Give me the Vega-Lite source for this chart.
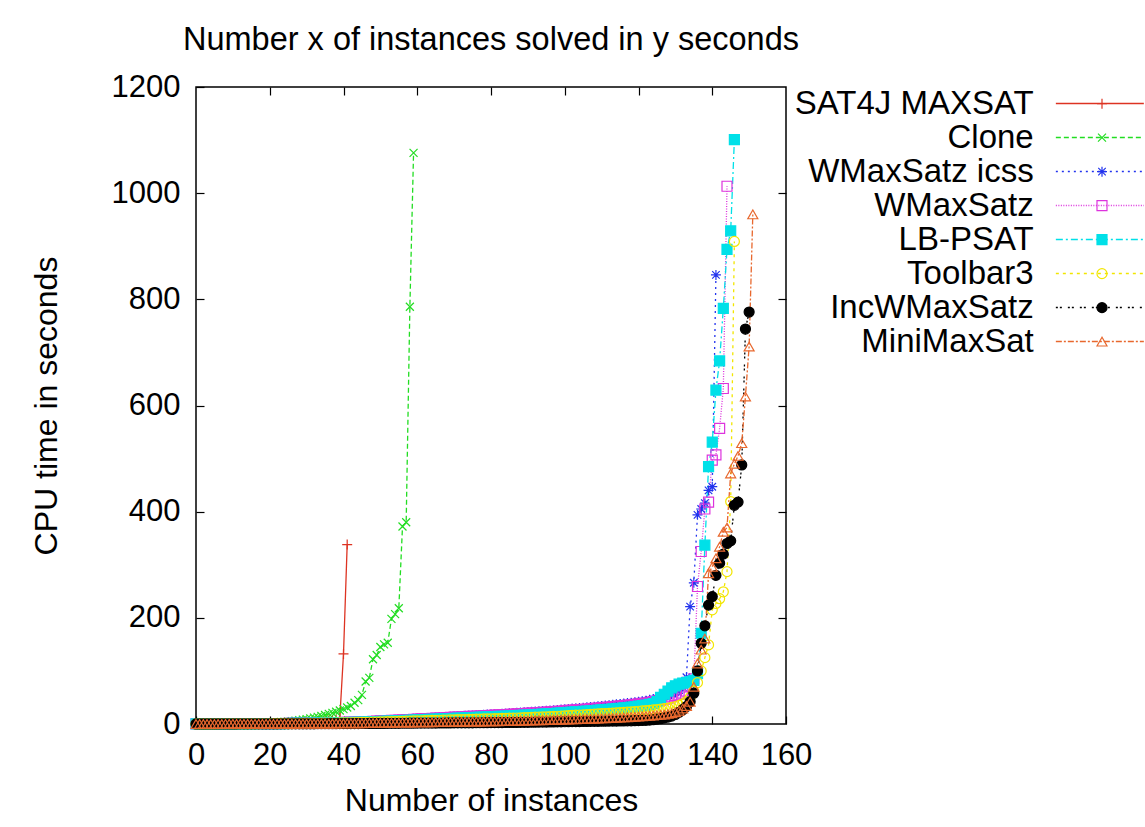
{
"$schema":"https://vega.github.io/schema/vega-lite/v6.json",
"width":590,"height":637,
"autosize":{"type":"none"},
"padding":{"left":196,"top":87,"right":359,"bottom":103},
"background":"white",
"title":{"text":"Number x of instances solved in y seconds","font":"Liberation Sans","fontSize":32.5,"fontWeight":"normal","color":"black","offset":15,"anchor":"middle","frame":"group"},
"config":{"view":{"stroke":"black","strokeWidth":1.5},"axis":{"grid":false,"domain":false,"tickColor":"black","tickWidth":1.2,"tickSize":-8,"labelColor":"black","labelFont":"Liberation Sans","labelFontSize":31,"labelOverlap":false,"labelFlush":false,"format":"d","titleFont":"Liberation Sans","titleFontSize":32,"titleFontWeight":"normal","titleColor":"black"}},
"data":{"values":[
{"s":"R","x":0,"y":0.1},{"s":"R","x":1,"y":0.1},{"s":"R","x":2,"y":0.2},{"s":"R","x":3,"y":0.2},{"s":"R","x":4,"y":0.2},{"s":"R","x":5,"y":0.3},{"s":"R","x":6,"y":0.3},{"s":"R","x":7,"y":0.4},{"s":"R","x":8,"y":0.4},{"s":"R","x":9,"y":0.5},{"s":"R","x":10,"y":0.5},{"s":"R","x":11,"y":0.6},{"s":"R","x":12,"y":0.6},{"s":"R","x":13,"y":0.7},{"s":"R","x":14,"y":0.8},{"s":"R","x":15,"y":0.9},{"s":"R","x":16,"y":1},{"s":"R","x":17,"y":1.1},{"s":"R","x":18,"y":1.2},{"s":"R","x":19,"y":1.3},
{"s":"R","x":20,"y":1.4},{"s":"R","x":21,"y":1.5},{"s":"R","x":22,"y":1.7},{"s":"R","x":23,"y":1.9},{"s":"R","x":24,"y":2.1},{"s":"R","x":25,"y":2.3},{"s":"R","x":26,"y":2.5},{"s":"R","x":27,"y":2.7},{"s":"R","x":28,"y":3},{"s":"R","x":29,"y":3.3},{"s":"R","x":30,"y":3.6},{"s":"R","x":31,"y":4},{"s":"R","x":32,"y":4.4},{"s":"R","x":33,"y":4.8},{"s":"R","x":34,"y":5.3},{"s":"R","x":35,"y":5.8},{"s":"R","x":36,"y":6.4},{"s":"R","x":37,"y":7},{"s":"R","x":38,"y":8},{"s":"R","x":39,"y":12},{"s":"R","x":40,"y":132},{"s":"R","x":41,"y":338},
{"s":"C","x":0,"y":0.1},{"s":"C","x":1,"y":0.1},{"s":"C","x":2,"y":0.2},{"s":"C","x":3,"y":0.2},{"s":"C","x":4,"y":0.3},{"s":"C","x":5,"y":0.3},{"s":"C","x":6,"y":0.4},{"s":"C","x":7,"y":0.5},{"s":"C","x":8,"y":0.6},{"s":"C","x":9,"y":0.7},{"s":"C","x":10,"y":0.8},{"s":"C","x":11,"y":0.9},{"s":"C","x":12,"y":1},{"s":"C","x":13,"y":1.1},{"s":"C","x":14,"y":1.2},{"s":"C","x":15,"y":1.4},{"s":"C","x":16,"y":1.6},{"s":"C","x":17,"y":1.8},{"s":"C","x":18,"y":2},{"s":"C","x":19,"y":2.2},
{"s":"C","x":20,"y":2.4},{"s":"C","x":21,"y":2.8},{"s":"C","x":22,"y":3.2},{"s":"C","x":23,"y":3.7},{"s":"C","x":24,"y":4.2},{"s":"C","x":25,"y":4.8},{"s":"C","x":26,"y":5.5},{"s":"C","x":27,"y":6.3},{"s":"C","x":28,"y":7.2},{"s":"C","x":29,"y":8.2},{"s":"C","x":30,"y":9.3},{"s":"C","x":31,"y":10.5},{"s":"C","x":32,"y":12},{"s":"C","x":33,"y":13.5},{"s":"C","x":34,"y":15},{"s":"C","x":35,"y":17},{"s":"C","x":36,"y":19},{"s":"C","x":37,"y":21},{"s":"C","x":38,"y":23},{"s":"C","x":39,"y":25.5},
{"s":"C","x":40,"y":28},{"s":"C","x":41,"y":31},{"s":"C","x":42,"y":34},{"s":"C","x":43,"y":40},{"s":"C","x":44,"y":45},{"s":"C","x":45,"y":55},{"s":"C","x":46,"y":80},{"s":"C","x":47,"y":87},{"s":"C","x":48,"y":122},{"s":"C","x":49,"y":130},{"s":"C","x":50,"y":145},{"s":"C","x":51,"y":150},{"s":"C","x":52,"y":153},{"s":"C","x":53,"y":198},{"s":"C","x":54,"y":207},{"s":"C","x":55,"y":218},{"s":"C","x":56,"y":372},{"s":"C","x":57,"y":380},{"s":"C","x":58,"y":786},{"s":"C","x":59,"y":1076},
{"s":"B","x":0,"y":0.1},{"s":"B","x":1,"y":0.1},{"s":"B","x":2,"y":0.1},{"s":"B","x":3,"y":0.1},{"s":"B","x":4,"y":0.2},{"s":"B","x":5,"y":0.2},{"s":"B","x":6,"y":0.2},{"s":"B","x":7,"y":0.2},{"s":"B","x":8,"y":0.3},{"s":"B","x":9,"y":0.3},{"s":"B","x":10,"y":0.3},{"s":"B","x":11,"y":0.4},{"s":"B","x":12,"y":0.4},{"s":"B","x":13,"y":0.4},{"s":"B","x":14,"y":0.5},{"s":"B","x":15,"y":0.5},{"s":"B","x":16,"y":0.6},{"s":"B","x":17,"y":0.6},{"s":"B","x":18,"y":0.7},{"s":"B","x":19,"y":0.7},
{"s":"B","x":20,"y":0.8},{"s":"B","x":21,"y":0.8},{"s":"B","x":22,"y":0.9},{"s":"B","x":23,"y":1},{"s":"B","x":24,"y":1},{"s":"B","x":25,"y":1.1},{"s":"B","x":26,"y":1.2},{"s":"B","x":27,"y":1.3},{"s":"B","x":28,"y":1.4},{"s":"B","x":29,"y":1.5},{"s":"B","x":30,"y":1.6},{"s":"B","x":31,"y":1.7},{"s":"B","x":32,"y":1.8},{"s":"B","x":33,"y":2},{"s":"B","x":34,"y":2.1},{"s":"B","x":35,"y":2.3},{"s":"B","x":36,"y":2.5},{"s":"B","x":37,"y":2.7},{"s":"B","x":38,"y":2.9},{"s":"B","x":39,"y":3.1},
{"s":"B","x":40,"y":3.3},{"s":"B","x":41,"y":3.5},{"s":"B","x":42,"y":3.8},{"s":"B","x":43,"y":4},{"s":"B","x":44,"y":4.3},{"s":"B","x":45,"y":4.6},{"s":"B","x":46,"y":4.9},{"s":"B","x":47,"y":5.2},{"s":"B","x":48,"y":5.5},{"s":"B","x":49,"y":5.9},{"s":"B","x":50,"y":6.3},{"s":"B","x":51,"y":6.7},{"s":"B","x":52,"y":7},{"s":"B","x":53,"y":7.4},{"s":"B","x":54,"y":7.8},{"s":"B","x":55,"y":8.2},{"s":"B","x":56,"y":8.6},{"s":"B","x":57,"y":9},{"s":"B","x":58,"y":9.4},{"s":"B","x":59,"y":9.8},
{"s":"B","x":60,"y":10.2},{"s":"B","x":61,"y":10.6},{"s":"B","x":62,"y":11},{"s":"B","x":63,"y":11.4},{"s":"B","x":64,"y":11.8},{"s":"B","x":65,"y":12.2},{"s":"B","x":66,"y":12.6},{"s":"B","x":67,"y":13},{"s":"B","x":68,"y":13.4},{"s":"B","x":69,"y":13.8},{"s":"B","x":70,"y":14.2},{"s":"B","x":71,"y":14.6},{"s":"B","x":72,"y":15},{"s":"B","x":73,"y":15.4},{"s":"B","x":74,"y":15.8},{"s":"B","x":75,"y":16.2},{"s":"B","x":76,"y":16.6},{"s":"B","x":77,"y":17},{"s":"B","x":78,"y":17.4},{"s":"B","x":79,"y":17.8},
{"s":"B","x":80,"y":18.2},{"s":"B","x":81,"y":18.6},{"s":"B","x":82,"y":19},{"s":"B","x":83,"y":19.4},{"s":"B","x":84,"y":19.8},{"s":"B","x":85,"y":20.2},{"s":"B","x":86,"y":20.6},{"s":"B","x":87,"y":21},{"s":"B","x":88,"y":21.5},{"s":"B","x":89,"y":22},{"s":"B","x":90,"y":22.5},{"s":"B","x":91,"y":23},{"s":"B","x":92,"y":23.5},{"s":"B","x":93,"y":24},{"s":"B","x":94,"y":24.5},{"s":"B","x":95,"y":25},{"s":"B","x":96,"y":25.5},{"s":"B","x":97,"y":26},{"s":"B","x":98,"y":26.6},{"s":"B","x":99,"y":27.2},
{"s":"B","x":100,"y":27.8},{"s":"B","x":101,"y":28.4},{"s":"B","x":102,"y":29},{"s":"B","x":103,"y":29.6},{"s":"B","x":104,"y":30.2},{"s":"B","x":105,"y":30.8},{"s":"B","x":106,"y":31.4},{"s":"B","x":107,"y":32},{"s":"B","x":108,"y":32.7},{"s":"B","x":109,"y":33.4},{"s":"B","x":110,"y":34.1},{"s":"B","x":111,"y":34.8},{"s":"B","x":112,"y":35.5},{"s":"B","x":113,"y":36.2},{"s":"B","x":114,"y":37},{"s":"B","x":115,"y":37.8},{"s":"B","x":116,"y":38.6},{"s":"B","x":117,"y":39.4},{"s":"B","x":118,"y":40.2},{"s":"B","x":119,"y":41},
{"s":"B","x":120,"y":42},{"s":"B","x":121,"y":43},{"s":"B","x":122,"y":44},{"s":"B","x":123,"y":45.5},{"s":"B","x":124,"y":47},{"s":"B","x":125,"y":48.5},{"s":"B","x":126,"y":50},{"s":"B","x":127,"y":52},{"s":"B","x":128,"y":54},{"s":"B","x":129,"y":57},{"s":"B","x":130,"y":60},{"s":"B","x":131,"y":64},{"s":"B","x":132,"y":70},{"s":"B","x":133,"y":88},{"s":"B","x":134,"y":221},{"s":"B","x":135,"y":266},{"s":"B","x":136,"y":394},{"s":"B","x":137,"y":405},{"s":"B","x":138,"y":416},{"s":"B","x":139,"y":440},{"s":"B","x":140,"y":447},{"s":"B","x":141,"y":846},
{"s":"M","x":0,"y":0.1},{"s":"M","x":1,"y":0.1},{"s":"M","x":2,"y":0.1},{"s":"M","x":3,"y":0.1},{"s":"M","x":4,"y":0.2},{"s":"M","x":5,"y":0.2},{"s":"M","x":6,"y":0.2},{"s":"M","x":7,"y":0.2},{"s":"M","x":8,"y":0.3},{"s":"M","x":9,"y":0.3},{"s":"M","x":10,"y":0.3},{"s":"M","x":11,"y":0.3},{"s":"M","x":12,"y":0.4},{"s":"M","x":13,"y":0.4},{"s":"M","x":14,"y":0.4},{"s":"M","x":15,"y":0.5},{"s":"M","x":16,"y":0.5},{"s":"M","x":17,"y":0.6},{"s":"M","x":18,"y":0.6},{"s":"M","x":19,"y":0.7},
{"s":"M","x":20,"y":0.7},{"s":"M","x":21,"y":0.8},{"s":"M","x":22,"y":0.8},{"s":"M","x":23,"y":0.9},{"s":"M","x":24,"y":0.9},{"s":"M","x":25,"y":1},{"s":"M","x":26,"y":1.1},{"s":"M","x":27,"y":1.2},{"s":"M","x":28,"y":1.3},{"s":"M","x":29,"y":1.3},{"s":"M","x":30,"y":1.4},{"s":"M","x":31,"y":1.5},{"s":"M","x":32,"y":1.6},{"s":"M","x":33,"y":1.8},{"s":"M","x":34,"y":1.9},{"s":"M","x":35,"y":2.1},{"s":"M","x":36,"y":2.2},{"s":"M","x":37,"y":2.4},{"s":"M","x":38,"y":2.6},{"s":"M","x":39,"y":2.8},
{"s":"M","x":40,"y":3},{"s":"M","x":41,"y":3.2},{"s":"M","x":42,"y":3.4},{"s":"M","x":43,"y":3.6},{"s":"M","x":44,"y":3.9},{"s":"M","x":45,"y":4.1},{"s":"M","x":46,"y":4.4},{"s":"M","x":47,"y":4.7},{"s":"M","x":48,"y":5},{"s":"M","x":49,"y":5.3},{"s":"M","x":50,"y":5.7},{"s":"M","x":51,"y":6},{"s":"M","x":52,"y":6.3},{"s":"M","x":53,"y":6.7},{"s":"M","x":54,"y":7},{"s":"M","x":55,"y":7.4},{"s":"M","x":56,"y":7.7},{"s":"M","x":57,"y":8.1},{"s":"M","x":58,"y":8.5},{"s":"M","x":59,"y":8.8},
{"s":"M","x":60,"y":9.2},{"s":"M","x":61,"y":9.5},{"s":"M","x":62,"y":9.9},{"s":"M","x":63,"y":10.3},{"s":"M","x":64,"y":10.6},{"s":"M","x":65,"y":11},{"s":"M","x":66,"y":11.3},{"s":"M","x":67,"y":11.7},{"s":"M","x":68,"y":12.1},{"s":"M","x":69,"y":12.4},{"s":"M","x":70,"y":12.8},{"s":"M","x":71,"y":13.1},{"s":"M","x":72,"y":13.5},{"s":"M","x":73,"y":13.9},{"s":"M","x":74,"y":14.2},{"s":"M","x":75,"y":14.6},{"s":"M","x":76,"y":14.9},{"s":"M","x":77,"y":15.3},{"s":"M","x":78,"y":15.7},{"s":"M","x":79,"y":16},
{"s":"M","x":80,"y":16.4},{"s":"M","x":81,"y":16.7},{"s":"M","x":82,"y":17.1},{"s":"M","x":83,"y":17.5},{"s":"M","x":84,"y":17.8},{"s":"M","x":85,"y":18.2},{"s":"M","x":86,"y":18.5},{"s":"M","x":87,"y":18.9},{"s":"M","x":88,"y":19.4},{"s":"M","x":89,"y":19.8},{"s":"M","x":90,"y":20.3},{"s":"M","x":91,"y":20.7},{"s":"M","x":92,"y":21.2},{"s":"M","x":93,"y":21.6},{"s":"M","x":94,"y":22.1},{"s":"M","x":95,"y":22.5},{"s":"M","x":96,"y":23},{"s":"M","x":97,"y":23.4},{"s":"M","x":98,"y":23.9},{"s":"M","x":99,"y":24.5},
{"s":"M","x":100,"y":25},{"s":"M","x":101,"y":25.6},{"s":"M","x":102,"y":26.1},{"s":"M","x":103,"y":26.6},{"s":"M","x":104,"y":27.2},{"s":"M","x":105,"y":27.7},{"s":"M","x":106,"y":28.3},{"s":"M","x":107,"y":28.8},{"s":"M","x":108,"y":29.4},{"s":"M","x":109,"y":30.1},{"s":"M","x":110,"y":30.7},{"s":"M","x":111,"y":31.3},{"s":"M","x":112,"y":32},{"s":"M","x":113,"y":32.6},{"s":"M","x":114,"y":33.3},{"s":"M","x":115,"y":34},{"s":"M","x":116,"y":34.7},{"s":"M","x":117,"y":35.5},{"s":"M","x":118,"y":36.2},{"s":"M","x":119,"y":36.9},
{"s":"M","x":120,"y":37.8},{"s":"M","x":121,"y":38.7},{"s":"M","x":122,"y":39.6},{"s":"M","x":123,"y":41},{"s":"M","x":124,"y":42.3},{"s":"M","x":125,"y":43.7},{"s":"M","x":126,"y":45},{"s":"M","x":127,"y":46.8},{"s":"M","x":128,"y":48.6},{"s":"M","x":129,"y":51.3},{"s":"M","x":130,"y":54},{"s":"M","x":131,"y":56},{"s":"M","x":132,"y":58},{"s":"M","x":133,"y":62},{"s":"M","x":134,"y":70},{"s":"M","x":135,"y":85},{"s":"M","x":136,"y":259},{"s":"M","x":137,"y":325},{"s":"M","x":138,"y":405},{"s":"M","x":139,"y":418},{"s":"M","x":140,"y":497},{"s":"M","x":141,"y":507},{"s":"M","x":142,"y":557},{"s":"M","x":143,"y":632},{"s":"M","x":144,"y":1013},
{"s":"L","x":0,"y":0.1},{"s":"L","x":1,"y":0.1},{"s":"L","x":2,"y":0.1},{"s":"L","x":3,"y":0.1},{"s":"L","x":4,"y":0.1},{"s":"L","x":5,"y":0.2},{"s":"L","x":6,"y":0.2},{"s":"L","x":7,"y":0.2},{"s":"L","x":8,"y":0.2},{"s":"L","x":9,"y":0.3},{"s":"L","x":10,"y":0.3},{"s":"L","x":11,"y":0.3},{"s":"L","x":12,"y":0.3},{"s":"L","x":13,"y":0.4},{"s":"L","x":14,"y":0.4},{"s":"L","x":15,"y":0.4},{"s":"L","x":16,"y":0.5},{"s":"L","x":17,"y":0.5},{"s":"L","x":18,"y":0.5},{"s":"L","x":19,"y":0.6},
{"s":"L","x":20,"y":0.6},{"s":"L","x":21,"y":0.7},{"s":"L","x":22,"y":0.7},{"s":"L","x":23,"y":0.8},{"s":"L","x":24,"y":0.8},{"s":"L","x":25,"y":0.9},{"s":"L","x":26,"y":1},{"s":"L","x":27,"y":1},{"s":"L","x":28,"y":1.1},{"s":"L","x":29,"y":1.2},{"s":"L","x":30,"y":1.3},{"s":"L","x":31,"y":1.4},{"s":"L","x":32,"y":1.5},{"s":"L","x":33,"y":1.6},{"s":"L","x":34,"y":1.7},{"s":"L","x":35,"y":1.8},{"s":"L","x":36,"y":1.9},{"s":"L","x":37,"y":2.1},{"s":"L","x":38,"y":2.2},{"s":"L","x":39,"y":2.4},
{"s":"L","x":40,"y":2.5},{"s":"L","x":41,"y":2.7},{"s":"L","x":42,"y":2.9},{"s":"L","x":43,"y":3.1},{"s":"L","x":44,"y":3.3},{"s":"L","x":45,"y":3.5},{"s":"L","x":46,"y":3.7},{"s":"L","x":47,"y":4},{"s":"L","x":48,"y":4.2},{"s":"L","x":49,"y":4.5},{"s":"L","x":50,"y":4.8},{"s":"L","x":51,"y":5},{"s":"L","x":52,"y":5.3},{"s":"L","x":53,"y":5.6},{"s":"L","x":54,"y":5.9},{"s":"L","x":55,"y":6.2},{"s":"L","x":56,"y":6.5},{"s":"L","x":57,"y":6.8},{"s":"L","x":58,"y":7.1},{"s":"L","x":59,"y":7.4},
{"s":"L","x":60,"y":7.7},{"s":"L","x":61,"y":8},{"s":"L","x":62,"y":8.3},{"s":"L","x":63,"y":8.6},{"s":"L","x":64,"y":8.9},{"s":"L","x":65,"y":9.2},{"s":"L","x":66,"y":9.5},{"s":"L","x":67,"y":9.8},{"s":"L","x":68,"y":10.1},{"s":"L","x":69,"y":10.4},{"s":"L","x":70,"y":10.7},{"s":"L","x":71,"y":11},{"s":"L","x":72,"y":11.3},{"s":"L","x":73,"y":11.6},{"s":"L","x":74,"y":11.9},{"s":"L","x":75,"y":12.2},{"s":"L","x":76,"y":12.5},{"s":"L","x":77,"y":12.8},{"s":"L","x":78,"y":13.1},{"s":"L","x":79,"y":13.4},
{"s":"L","x":80,"y":13.7},{"s":"L","x":81,"y":14},{"s":"L","x":82,"y":14.3},{"s":"L","x":83,"y":14.6},{"s":"L","x":84,"y":14.9},{"s":"L","x":85,"y":15.2},{"s":"L","x":86,"y":15.5},{"s":"L","x":87,"y":15.8},{"s":"L","x":88,"y":16.2},{"s":"L","x":89,"y":16.6},{"s":"L","x":90,"y":17},{"s":"L","x":91,"y":17.4},{"s":"L","x":92,"y":17.8},{"s":"L","x":93,"y":18.2},{"s":"L","x":94,"y":18.6},{"s":"L","x":95,"y":19},{"s":"L","x":96,"y":19.4},{"s":"L","x":97,"y":19.8},{"s":"L","x":98,"y":20.3},{"s":"L","x":99,"y":20.8},
{"s":"L","x":100,"y":21.3},{"s":"L","x":101,"y":21.8},{"s":"L","x":102,"y":22.3},{"s":"L","x":103,"y":22.8},{"s":"L","x":104,"y":23.3},{"s":"L","x":105,"y":23.8},{"s":"L","x":106,"y":24.3},{"s":"L","x":107,"y":24.8},{"s":"L","x":108,"y":25.4},{"s":"L","x":109,"y":26},{"s":"L","x":110,"y":26.6},{"s":"L","x":111,"y":27.2},{"s":"L","x":112,"y":27.8},{"s":"L","x":113,"y":28.4},{"s":"L","x":114,"y":29},{"s":"L","x":115,"y":29.7},{"s":"L","x":116,"y":30.4},{"s":"L","x":117,"y":31.1},{"s":"L","x":118,"y":31.8},{"s":"L","x":119,"y":32.5},
{"s":"L","x":120,"y":33.5},{"s":"L","x":121,"y":34.5},{"s":"L","x":122,"y":35.5},{"s":"L","x":123,"y":37},{"s":"L","x":124,"y":38.5},{"s":"L","x":125,"y":42},{"s":"L","x":126,"y":50},{"s":"L","x":127,"y":56},{"s":"L","x":128,"y":62},{"s":"L","x":129,"y":68},{"s":"L","x":130,"y":72},{"s":"L","x":131,"y":75},{"s":"L","x":132,"y":77},{"s":"L","x":133,"y":78},{"s":"L","x":134,"y":80},{"s":"L","x":135,"y":82},{"s":"L","x":136,"y":95},{"s":"L","x":137,"y":171},{"s":"L","x":138,"y":337},{"s":"L","x":139,"y":485},{"s":"L","x":140,"y":531},{"s":"L","x":141,"y":629},{"s":"L","x":142,"y":684},{"s":"L","x":143,"y":783},{"s":"L","x":144,"y":894},{"s":"L","x":145,"y":929},{"s":"L","x":146,"y":1101},
{"s":"T","x":0,"y":0.1},{"s":"T","x":1,"y":0.1},{"s":"T","x":2,"y":0.1},{"s":"T","x":3,"y":0.1},{"s":"T","x":4,"y":0.1},{"s":"T","x":5,"y":0.1},{"s":"T","x":6,"y":0.2},{"s":"T","x":7,"y":0.2},{"s":"T","x":8,"y":0.2},{"s":"T","x":9,"y":0.2},{"s":"T","x":10,"y":0.2},{"s":"T","x":11,"y":0.3},{"s":"T","x":12,"y":0.3},{"s":"T","x":13,"y":0.3},{"s":"T","x":14,"y":0.3},{"s":"T","x":15,"y":0.4},{"s":"T","x":16,"y":0.4},{"s":"T","x":17,"y":0.4},{"s":"T","x":18,"y":0.5},{"s":"T","x":19,"y":0.5},
{"s":"T","x":20,"y":0.5},{"s":"T","x":21,"y":0.6},{"s":"T","x":22,"y":0.6},{"s":"T","x":23,"y":0.7},{"s":"T","x":24,"y":0.7},{"s":"T","x":25,"y":0.8},{"s":"T","x":26,"y":0.8},{"s":"T","x":27,"y":0.9},{"s":"T","x":28,"y":0.9},{"s":"T","x":29,"y":1},{"s":"T","x":30,"y":1.1},{"s":"T","x":31,"y":1.2},{"s":"T","x":32,"y":1.3},{"s":"T","x":33,"y":1.4},{"s":"T","x":34,"y":1.5},{"s":"T","x":35,"y":1.6},{"s":"T","x":36,"y":1.7},{"s":"T","x":37,"y":1.8},{"s":"T","x":38,"y":1.9},{"s":"T","x":39,"y":2},
{"s":"T","x":40,"y":2.1},{"s":"T","x":41,"y":2.3},{"s":"T","x":42,"y":2.4},{"s":"T","x":43,"y":2.6},{"s":"T","x":44,"y":2.7},{"s":"T","x":45,"y":2.9},{"s":"T","x":46,"y":3.1},{"s":"T","x":47,"y":3.3},{"s":"T","x":48,"y":3.5},{"s":"T","x":49,"y":3.7},{"s":"T","x":50,"y":3.9},{"s":"T","x":51,"y":4.1},{"s":"T","x":52,"y":4.3},{"s":"T","x":53,"y":4.5},{"s":"T","x":54,"y":4.7},{"s":"T","x":55,"y":4.9},{"s":"T","x":56,"y":5.1},{"s":"T","x":57,"y":5.3},{"s":"T","x":58,"y":5.5},{"s":"T","x":59,"y":5.7},
{"s":"T","x":60,"y":5.9},{"s":"T","x":61,"y":6.1},{"s":"T","x":62,"y":6.3},{"s":"T","x":63,"y":6.5},{"s":"T","x":64,"y":6.7},{"s":"T","x":65,"y":6.9},{"s":"T","x":66,"y":7.1},{"s":"T","x":67,"y":7.3},{"s":"T","x":68,"y":7.5},{"s":"T","x":69,"y":7.7},{"s":"T","x":70,"y":7.9},{"s":"T","x":71,"y":8.1},{"s":"T","x":72,"y":8.3},{"s":"T","x":73,"y":8.5},{"s":"T","x":74,"y":8.7},{"s":"T","x":75,"y":8.9},{"s":"T","x":76,"y":9.1},{"s":"T","x":77,"y":9.3},{"s":"T","x":78,"y":9.5},{"s":"T","x":79,"y":9.7},
{"s":"T","x":80,"y":9.9},{"s":"T","x":81,"y":10.1},{"s":"T","x":82,"y":10.3},{"s":"T","x":83,"y":10.5},{"s":"T","x":84,"y":10.7},{"s":"T","x":85,"y":10.9},{"s":"T","x":86,"y":11.1},{"s":"T","x":87,"y":11.3},{"s":"T","x":88,"y":11.6},{"s":"T","x":89,"y":11.9},{"s":"T","x":90,"y":12.2},{"s":"T","x":91,"y":12.5},{"s":"T","x":92,"y":12.8},{"s":"T","x":93,"y":13.1},{"s":"T","x":94,"y":13.4},{"s":"T","x":95,"y":13.7},{"s":"T","x":96,"y":14},{"s":"T","x":97,"y":14.3},{"s":"T","x":98,"y":14.6},{"s":"T","x":99,"y":15},
{"s":"T","x":100,"y":15.4},{"s":"T","x":101,"y":15.8},{"s":"T","x":102,"y":16.2},{"s":"T","x":103,"y":16.6},{"s":"T","x":104,"y":17},{"s":"T","x":105,"y":17.4},{"s":"T","x":106,"y":17.8},{"s":"T","x":107,"y":18.2},{"s":"T","x":108,"y":18.6},{"s":"T","x":109,"y":19},{"s":"T","x":110,"y":19.4},{"s":"T","x":111,"y":19.8},{"s":"T","x":112,"y":20.2},{"s":"T","x":113,"y":20.6},{"s":"T","x":114,"y":21},{"s":"T","x":115,"y":21.5},{"s":"T","x":116,"y":22},{"s":"T","x":117,"y":22.5},{"s":"T","x":118,"y":23},{"s":"T","x":119,"y":23.5},
{"s":"T","x":120,"y":24},{"s":"T","x":121,"y":24.6},{"s":"T","x":122,"y":25.2},{"s":"T","x":123,"y":25.8},{"s":"T","x":124,"y":26.5},{"s":"T","x":125,"y":27.2},{"s":"T","x":126,"y":28},{"s":"T","x":127,"y":29},{"s":"T","x":128,"y":30},{"s":"T","x":129,"y":31.5},{"s":"T","x":130,"y":33},{"s":"T","x":131,"y":35},{"s":"T","x":132,"y":38},{"s":"T","x":133,"y":42},{"s":"T","x":134,"y":50},{"s":"T","x":135,"y":62},{"s":"T","x":136,"y":78},{"s":"T","x":137,"y":100},{"s":"T","x":138,"y":125},{"s":"T","x":139,"y":149},{"s":"T","x":140,"y":215},{"s":"T","x":141,"y":227},{"s":"T","x":142,"y":236},{"s":"T","x":143,"y":249},{"s":"T","x":144,"y":287},{"s":"T","x":145,"y":419},{"s":"T","x":146,"y":909},
{"s":"I","x":0,"y":0.1},{"s":"I","x":1,"y":0.1},{"s":"I","x":2,"y":0.1},{"s":"I","x":3,"y":0.1},{"s":"I","x":4,"y":0.1},{"s":"I","x":5,"y":0.1},{"s":"I","x":6,"y":0.1},{"s":"I","x":7,"y":0.1},{"s":"I","x":8,"y":0.1},{"s":"I","x":9,"y":0.1},{"s":"I","x":10,"y":0.1},{"s":"I","x":11,"y":0.1},{"s":"I","x":12,"y":0.2},{"s":"I","x":13,"y":0.2},{"s":"I","x":14,"y":0.2},{"s":"I","x":15,"y":0.2},{"s":"I","x":16,"y":0.2},{"s":"I","x":17,"y":0.2},{"s":"I","x":18,"y":0.2},{"s":"I","x":19,"y":0.2},
{"s":"I","x":20,"y":0.2},{"s":"I","x":21,"y":0.2},{"s":"I","x":22,"y":0.2},{"s":"I","x":23,"y":0.2},{"s":"I","x":24,"y":0.3},{"s":"I","x":25,"y":0.3},{"s":"I","x":26,"y":0.3},{"s":"I","x":27,"y":0.3},{"s":"I","x":28,"y":0.3},{"s":"I","x":29,"y":0.4},{"s":"I","x":30,"y":0.4},{"s":"I","x":31,"y":0.4},{"s":"I","x":32,"y":0.4},{"s":"I","x":33,"y":0.5},{"s":"I","x":34,"y":0.5},{"s":"I","x":35,"y":0.5},{"s":"I","x":36,"y":0.6},{"s":"I","x":37,"y":0.6},{"s":"I","x":38,"y":0.6},{"s":"I","x":39,"y":0.7},
{"s":"I","x":40,"y":0.7},{"s":"I","x":41,"y":0.7},{"s":"I","x":42,"y":0.8},{"s":"I","x":43,"y":0.8},{"s":"I","x":44,"y":0.8},{"s":"I","x":45,"y":0.9},{"s":"I","x":46,"y":0.9},{"s":"I","x":47,"y":1},{"s":"I","x":48,"y":1},{"s":"I","x":49,"y":1},{"s":"I","x":50,"y":1.1},{"s":"I","x":51,"y":1.1},{"s":"I","x":52,"y":1.2},{"s":"I","x":53,"y":1.2},{"s":"I","x":54,"y":1.3},{"s":"I","x":55,"y":1.3},{"s":"I","x":56,"y":1.4},{"s":"I","x":57,"y":1.4},{"s":"I","x":58,"y":1.5},{"s":"I","x":59,"y":1.5},
{"s":"I","x":60,"y":1.6},{"s":"I","x":61,"y":1.6},{"s":"I","x":62,"y":1.7},{"s":"I","x":63,"y":1.7},{"s":"I","x":64,"y":1.8},{"s":"I","x":65,"y":1.8},{"s":"I","x":66,"y":1.9},{"s":"I","x":67,"y":1.9},{"s":"I","x":68,"y":2},{"s":"I","x":69,"y":2},{"s":"I","x":70,"y":2.1},{"s":"I","x":71,"y":2.1},{"s":"I","x":72,"y":2.2},{"s":"I","x":73,"y":2.2},{"s":"I","x":74,"y":2.3},{"s":"I","x":75,"y":2.3},{"s":"I","x":76,"y":2.4},{"s":"I","x":77,"y":2.4},{"s":"I","x":78,"y":2.5},{"s":"I","x":79,"y":2.5},
{"s":"I","x":80,"y":2.6},{"s":"I","x":81,"y":2.6},{"s":"I","x":82,"y":2.7},{"s":"I","x":83,"y":2.7},{"s":"I","x":84,"y":2.8},{"s":"I","x":85,"y":2.8},{"s":"I","x":86,"y":2.9},{"s":"I","x":87,"y":2.9},{"s":"I","x":88,"y":3},{"s":"I","x":89,"y":3.1},{"s":"I","x":90,"y":3.2},{"s":"I","x":91,"y":3.3},{"s":"I","x":92,"y":3.4},{"s":"I","x":93,"y":3.5},{"s":"I","x":94,"y":3.6},{"s":"I","x":95,"y":3.7},{"s":"I","x":96,"y":3.8},{"s":"I","x":97,"y":3.9},{"s":"I","x":98,"y":4},{"s":"I","x":99,"y":4.1},
{"s":"I","x":100,"y":4.2},{"s":"I","x":101,"y":4.3},{"s":"I","x":102,"y":4.4},{"s":"I","x":103,"y":4.5},{"s":"I","x":104,"y":4.6},{"s":"I","x":105,"y":4.7},{"s":"I","x":106,"y":4.8},{"s":"I","x":107,"y":4.9},{"s":"I","x":108,"y":5},{"s":"I","x":109,"y":5.1},{"s":"I","x":110,"y":5.2},{"s":"I","x":111,"y":5.3},{"s":"I","x":112,"y":5.4},{"s":"I","x":113,"y":5.5},{"s":"I","x":114,"y":5.6},{"s":"I","x":115,"y":5.7},{"s":"I","x":116,"y":5.8},{"s":"I","x":117,"y":5.9},{"s":"I","x":118,"y":6},{"s":"I","x":119,"y":6.2},
{"s":"I","x":120,"y":6.4},{"s":"I","x":121,"y":6.7},{"s":"I","x":122,"y":7},{"s":"I","x":123,"y":7.4},{"s":"I","x":124,"y":8},{"s":"I","x":125,"y":9},{"s":"I","x":126,"y":10},{"s":"I","x":127,"y":11.5},{"s":"I","x":128,"y":13},{"s":"I","x":129,"y":15},{"s":"I","x":130,"y":18},{"s":"I","x":131,"y":22},{"s":"I","x":132,"y":27},{"s":"I","x":133,"y":33},{"s":"I","x":134,"y":42},{"s":"I","x":135,"y":58},{"s":"I","x":136,"y":100},{"s":"I","x":137,"y":152},{"s":"I","x":138,"y":185},{"s":"I","x":139,"y":224},{"s":"I","x":140,"y":240},{"s":"I","x":141,"y":280},{"s":"I","x":142,"y":303},{"s":"I","x":143,"y":320},{"s":"I","x":144,"y":340},{"s":"I","x":145,"y":345},{"s":"I","x":146,"y":412},{"s":"I","x":147,"y":418},{"s":"I","x":148,"y":488},{"s":"I","x":149,"y":744},{"s":"I","x":150,"y":776},
{"s":"O","x":0,"y":0.1},{"s":"O","x":1,"y":0.1},{"s":"O","x":2,"y":0.1},{"s":"O","x":3,"y":0.1},{"s":"O","x":4,"y":0.1},{"s":"O","x":5,"y":0.1},{"s":"O","x":6,"y":0.1},{"s":"O","x":7,"y":0.1},{"s":"O","x":8,"y":0.2},{"s":"O","x":9,"y":0.2},{"s":"O","x":10,"y":0.2},{"s":"O","x":11,"y":0.2},{"s":"O","x":12,"y":0.2},{"s":"O","x":13,"y":0.2},{"s":"O","x":14,"y":0.3},{"s":"O","x":15,"y":0.3},{"s":"O","x":16,"y":0.3},{"s":"O","x":17,"y":0.3},{"s":"O","x":18,"y":0.3},{"s":"O","x":19,"y":0.3},
{"s":"O","x":20,"y":0.3},{"s":"O","x":21,"y":0.3},{"s":"O","x":22,"y":0.4},{"s":"O","x":23,"y":0.4},{"s":"O","x":24,"y":0.4},{"s":"O","x":25,"y":0.5},{"s":"O","x":26,"y":0.5},{"s":"O","x":27,"y":0.5},{"s":"O","x":28,"y":0.6},{"s":"O","x":29,"y":0.6},{"s":"O","x":30,"y":0.6},{"s":"O","x":31,"y":0.7},{"s":"O","x":32,"y":0.7},{"s":"O","x":33,"y":0.8},{"s":"O","x":34,"y":0.8},{"s":"O","x":35,"y":0.9},{"s":"O","x":36,"y":0.9},{"s":"O","x":37,"y":1},{"s":"O","x":38,"y":1},{"s":"O","x":39,"y":1.1},
{"s":"O","x":40,"y":1.1},{"s":"O","x":41,"y":1.2},{"s":"O","x":42,"y":1.3},{"s":"O","x":43,"y":1.3},{"s":"O","x":44,"y":1.4},{"s":"O","x":45,"y":1.5},{"s":"O","x":46,"y":1.6},{"s":"O","x":47,"y":1.7},{"s":"O","x":48,"y":1.8},{"s":"O","x":49,"y":1.9},{"s":"O","x":50,"y":2},{"s":"O","x":51,"y":2.1},{"s":"O","x":52,"y":2.2},{"s":"O","x":53,"y":2.3},{"s":"O","x":54,"y":2.4},{"s":"O","x":55,"y":2.5},{"s":"O","x":56,"y":2.6},{"s":"O","x":57,"y":2.7},{"s":"O","x":58,"y":2.8},{"s":"O","x":59,"y":2.9},
{"s":"O","x":60,"y":3},{"s":"O","x":61,"y":3.1},{"s":"O","x":62,"y":3.2},{"s":"O","x":63,"y":3.3},{"s":"O","x":64,"y":3.4},{"s":"O","x":65,"y":3.5},{"s":"O","x":66,"y":3.6},{"s":"O","x":67,"y":3.7},{"s":"O","x":68,"y":3.8},{"s":"O","x":69,"y":3.9},{"s":"O","x":70,"y":4},{"s":"O","x":71,"y":4.1},{"s":"O","x":72,"y":4.2},{"s":"O","x":73,"y":4.3},{"s":"O","x":74,"y":4.4},{"s":"O","x":75,"y":4.5},{"s":"O","x":76,"y":4.6},{"s":"O","x":77,"y":4.7},{"s":"O","x":78,"y":4.8},{"s":"O","x":79,"y":4.9},
{"s":"O","x":80,"y":5},{"s":"O","x":81,"y":5.1},{"s":"O","x":82,"y":5.2},{"s":"O","x":83,"y":5.3},{"s":"O","x":84,"y":5.4},{"s":"O","x":85,"y":5.5},{"s":"O","x":86,"y":5.6},{"s":"O","x":87,"y":5.7},{"s":"O","x":88,"y":5.9},{"s":"O","x":89,"y":6.1},{"s":"O","x":90,"y":6.3},{"s":"O","x":91,"y":6.5},{"s":"O","x":92,"y":6.7},{"s":"O","x":93,"y":6.9},{"s":"O","x":94,"y":7.1},{"s":"O","x":95,"y":7.3},{"s":"O","x":96,"y":7.5},{"s":"O","x":97,"y":7.7},{"s":"O","x":98,"y":7.9},{"s":"O","x":99,"y":8.1},
{"s":"O","x":100,"y":8.3},{"s":"O","x":101,"y":8.5},{"s":"O","x":102,"y":8.7},{"s":"O","x":103,"y":8.9},{"s":"O","x":104,"y":9.1},{"s":"O","x":105,"y":9.3},{"s":"O","x":106,"y":9.5},{"s":"O","x":107,"y":9.7},{"s":"O","x":108,"y":9.9},{"s":"O","x":109,"y":10.2},{"s":"O","x":110,"y":10.5},{"s":"O","x":111,"y":10.8},{"s":"O","x":112,"y":11.1},{"s":"O","x":113,"y":11.4},{"s":"O","x":114,"y":11.7},{"s":"O","x":115,"y":12},{"s":"O","x":116,"y":12.4},{"s":"O","x":117,"y":12.8},{"s":"O","x":118,"y":13.2},{"s":"O","x":119,"y":13.6},
{"s":"O","x":120,"y":14},{"s":"O","x":121,"y":14.5},{"s":"O","x":122,"y":15},{"s":"O","x":123,"y":15.5},{"s":"O","x":124,"y":16},{"s":"O","x":125,"y":16.6},{"s":"O","x":126,"y":17.2},{"s":"O","x":127,"y":18},{"s":"O","x":128,"y":19},{"s":"O","x":129,"y":20},{"s":"O","x":130,"y":22},{"s":"O","x":131,"y":25},{"s":"O","x":132,"y":29},{"s":"O","x":133,"y":34},{"s":"O","x":134,"y":42},{"s":"O","x":135,"y":70},{"s":"O","x":136,"y":114},{"s":"O","x":137,"y":140},{"s":"O","x":138,"y":161},{"s":"O","x":139,"y":284},{"s":"O","x":140,"y":296},{"s":"O","x":141,"y":312},{"s":"O","x":142,"y":334},{"s":"O","x":143,"y":362},{"s":"O","x":144,"y":370},{"s":"O","x":145,"y":472},{"s":"O","x":146,"y":490},{"s":"O","x":147,"y":505},{"s":"O","x":148,"y":529},{"s":"O","x":149,"y":617},{"s":"O","x":150,"y":711},{"s":"O","x":151,"y":960}
]},
"layer":[
{"mark":{"type":"line","strokeWidth":1.3},
 "encoding":{
  "x":{"field":"x","type":"quantitative","scale":{"domain":[0,160],"nice":false,"zero":false},"axis":{"orient":"bottom","values":[0,20,40,60,80,100,120,140,160],"labelPadding":24,"title":"Number of instances","titlePadding":15}},
  "y":{"field":"y","type":"quantitative","scale":{"domain":[0,1200],"nice":false,"zero":false},"axis":{"orient":"left","values":[0,200,400,600,800,1000,1200],"labelPadding":24,"title":"CPU time in seconds","titlePadding":48}},
  "stroke":{"field":"s","type":"nominal","scale":{"domain":["R","C","B","M","L","T","I","O"],"range":["#dd3322","#22dd22","#2233ee","#dd33dd","#00e0e8","#f2e600","#000000","#e8682e"]},"legend":null},
  "strokeDash":{"field":"s","type":"nominal","scale":{"domain":["R","C","B","M","L","T","I","O"],"range":[[1,0],[5,3],[2,4],[1,1.5],[7,3,2,3],[3,4],[2,2,2,6],[6,2,2,2]]},
   "legend":{"orient":"none","legendX":887.35,"legendY":0,"title":null,"padding":0,"symbolType":"M-8.8,0H8.8","symbolSize":100,"symbolStrokeWidth":1.3,"rowPadding":-1.8,"labelFont":"Liberation Sans","labelFontSize":33,"labelColor":"black","labelAlign":"right","labelOffset":-82.65,"labelLimit":400,
    "labelExpr":"datum.value=='R'?'SAT4J MAXSAT':datum.value=='C'?'Clone':datum.value=='B'?'WMaxSatz icss':datum.value=='M'?'WMaxSatz':datum.value=='L'?'LB-PSAT':datum.value=='T'?'Toolbar3':datum.value=='I'?'IncWMaxSatz':'MiniMaxSat'",
    "encoding":{"symbols":{"stroke":{"value":{"expr":"scale('stroke', datum.value)"}},"fill":{"value":"transparent"},"opacity":{"value":1}}}}}
 }},
{"mark":{"type":"point","size":100,"strokeWidth":1.2,"opacity":1},
 "encoding":{
  "x":{"field":"x","type":"quantitative","scale":{"domain":[0,160],"nice":false,"zero":false},"axis":{"orient":"top","values":[20,40,60,80,100,120,140],"labels":false,"title":null}},
  "y":{"field":"y","type":"quantitative","scale":{"domain":[0,1200],"nice":false,"zero":false},"axis":{"orient":"right","values":[200,400,600,800,1000],"labels":false,"title":null}},
  "stroke":{"field":"s","type":"nominal","legend":null},
  "fill":{"field":"s","type":"nominal","scale":{"domain":["R","C","B","M","L","T","I","O"],"range":["transparent","transparent","transparent","transparent","#00e0e8","transparent","#000000","transparent"]},"legend":null},
  "shape":{"field":"s","type":"nominal","sort":["R","C","B","M","L","T","I","O"],"scale":{"range":["M-1,0H1M0,-1V1","M-0.8,-0.8L0.8,0.8M-0.8,0.8L0.8,-0.8","M-1,0H1M0,-1V1M-0.75,-0.75L0.75,0.75M-0.75,0.75L0.75,-0.75","square","square","circle","circle","triangle-up"]},
   "legend":{"orient":"right","offset":309,"title":null,"padding":0,"symbolSize":100,"symbolStrokeWidth":1.2,"clipHeight":33.3,"rowPadding":0,"labelExpr":"''","labelFontSize":10,
    "encoding":{"symbols":{"stroke":{"value":{"expr":"scale('stroke', datum.value)"}},"fill":{"value":{"expr":"scale('fill', datum.value)"}},"opacity":{"value":1}}}}}
 }}
],
"resolve":{"axis":{"x":"independent","y":"independent"},"legend":{"strokeDash":"independent","shape":"independent"}}
}
